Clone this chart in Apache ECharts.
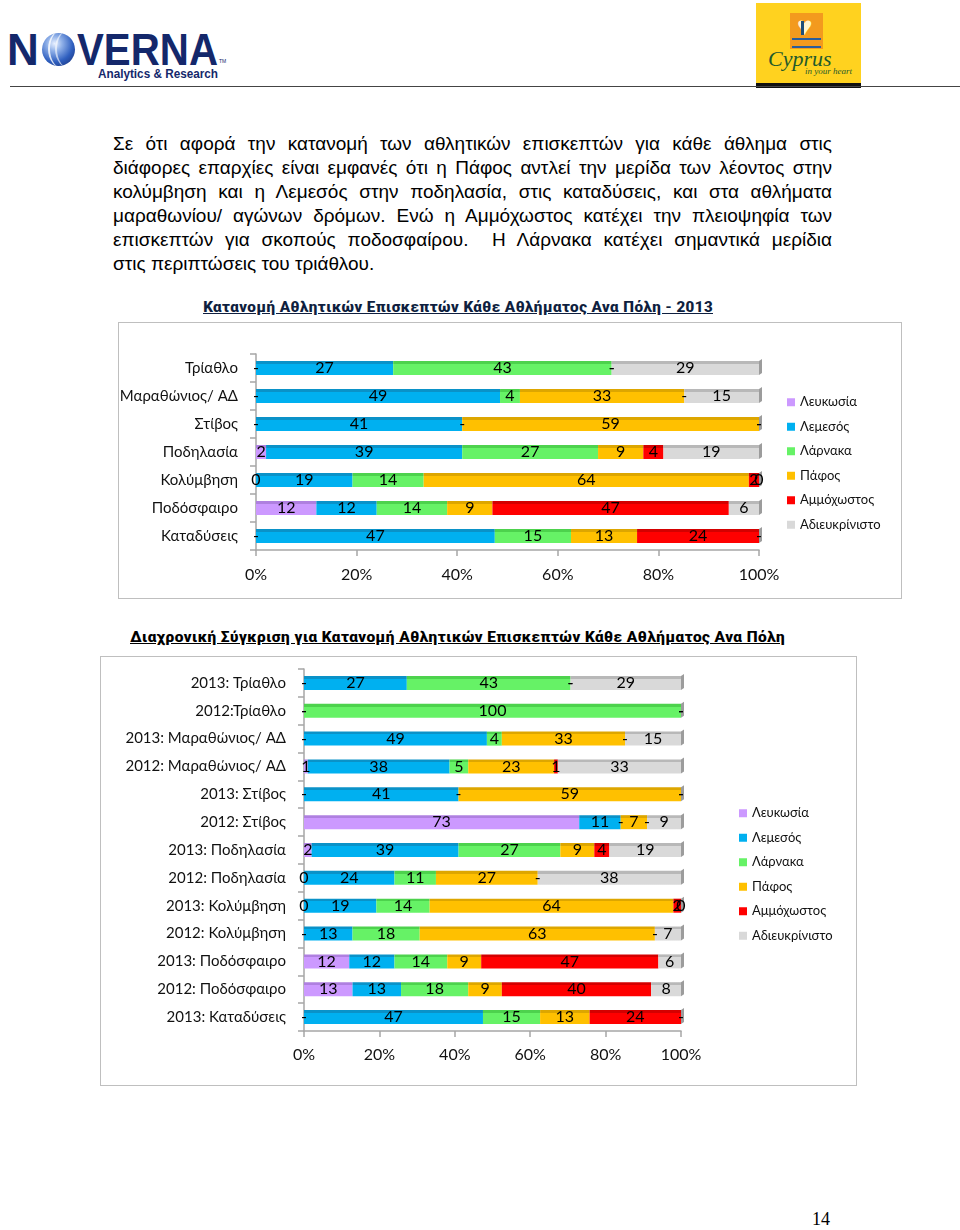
<!DOCTYPE html>
<html><head><meta charset="utf-8">
<script src="https://cdn.jsdelivr.net/npm/echarts@6/dist/echarts.min.js"></script>
<style>
body{margin:0;width:960px;height:1230px;position:relative;background:#fff;overflow:hidden;font-family:'Liberation Sans',Arial,sans-serif;color:#000;}
.abs{position:absolute;}
.fit{white-space:nowrap;display:inline-block;transform-origin:0 50%;}
.para{position:absolute;left:113px;width:719px;top:132px;font-size:19px;line-height:24px;}
.para div{white-space:nowrap;}
.para span{display:inline-block;transform-origin:0 50%;white-space:nowrap;}
.title{position:absolute;font-family:'Liberation Sans Narrow','Roboto Condensed','Liberation Sans',Arial,sans-serif;font-weight:bold;}
.title span{text-decoration:underline;}
</style></head><body>

<!-- header -->
<div class="abs" style="left:7px;top:28px;font-size:44px;line-height:44px;font-weight:bold;color:#14286b;">N</div>
<div class="abs" style="left:42px;top:33px;width:33px;height:33px;border-radius:50%;background:radial-gradient(circle at 38% 32%,#e8f0ff 0%,#8fb0e8 25%,#2f5fbf 60%,#14286b 100%);overflow:hidden;">
  <div class="abs" style="left:6px;top:-4px;width:30px;height:40px;border-left:2px solid rgba(255,255,255,0.8);border-radius:50%;"></div>
  <div class="abs" style="left:13px;top:-4px;width:30px;height:40px;border-left:2px solid rgba(255,255,255,0.6);border-radius:50%;"></div>
</div>
<div class="abs" style="left:77px;top:28px;font-size:44px;line-height:44px;font-weight:bold;color:#14286b;"><span id="verna" class="fit">VERNA</span></div>
<div class="abs" style="left:219px;top:58px;font-size:5px;color:#14286b;">TM</div>
<div class="abs" style="left:98px;top:67px;font-size:12.5px;line-height:14px;font-weight:bold;color:#14286b;"><span id="analytics" class="fit">Analytics &amp; Research</span></div>

<div class="abs" style="left:756px;top:3px;width:105px;height:80px;background:#FFD21F;"></div>
<div class="abs" style="left:790px;top:13px;width:33px;height:36px;background:#F39A1E;"></div>
<div class="abs" style="left:797px;top:11px;font-size:26px;line-height:30px;color:#FFF6D0;">♥</div>
<div class="abs" style="left:801px;top:21px;width:3px;height:14px;background:#1d4f7a;"></div>
<div class="abs" style="left:792px;top:38px;width:29px;height:6px;border-top:2px solid #2a5d9a;border-bottom:2px solid #2a5d9a;"></div>
<div class="abs" style="left:768px;top:47px;font-family:'Liberation Serif',serif;font-style:italic;font-size:22px;line-height:24px;color:#1f5a2c;">Cyprus</div>
<div class="abs" style="left:805px;top:66px;font-family:'Liberation Serif',serif;font-style:italic;font-size:9px;line-height:10px;color:#1f5a2c;">in your heart</div>
<div class="abs" style="left:756px;top:83px;width:105px;height:5px;background:#111;"></div>
<div class="abs" style="left:10px;top:86px;width:950px;height:0;border-top:1.5px solid #444;"></div>

<!-- paragraph -->
<div class="para" id="para">
<div><span>Σε ότι αφορά την κατανομή των αθλητικών επισκεπτών για κάθε άθλημα στις</span></div>
<div><span>διάφορες επαρχίες είναι εμφανές ότι η Πάφος αντλεί την μερίδα των λέοντος στην</span></div>
<div><span>κολύμβηση και η Λεμεσός στην ποδηλασία, στις καταδύσεις, και στα αθλήματα</span></div>
<div><span>μαραθωνίου/ αγώνων δρόμων. Ενώ η Αμμόχωστος κατέχει την πλειοψηφία των</span></div>
<div><span>επισκεπτών για σκοπούς ποδοσφαίρου.&nbsp; Η Λάρνακα κατέχει σημαντικά μερίδια</span></div>
<div class="last"><span>στις περιπτώσεις του τριάθλου.</span></div>
</div>

<!-- chart 1 -->
<div class="title" style="left:203px;top:298px;font-size:14px;line-height:18px;color:#0f1f3f;"><span id="t1" class="fit">Κατανομή Αθλητικών Επισκεπτών Κάθε Αθλήματος Ανα Πόλη - 2013</span></div>
<div class="abs" style="left:118px;top:322px;width:784px;height:277px;border:1px solid #BFBFBF;box-sizing:border-box;"></div>
<div id="c1" class="abs" style="left:0;top:320px;width:960px;height:285px;"></div>

<!-- chart 2 -->
<div class="title" style="left:130px;top:628px;font-size:15px;line-height:19px;color:#000;"><span id="t2" class="fit">Διαχρονική Σύγκριση για Κατανομή Αθλητικών Επισκεπτών Κάθε Αθλήματος Ανα Πόλη</span></div>
<div class="abs" style="left:100px;top:656px;width:757px;height:430px;border:1px solid #BFBFBF;box-sizing:border-box;"></div>
<div id="c2" class="abs" style="left:0;top:650px;width:960px;height:430px;"></div>

<div class="abs" style="left:812px;top:1209px;font-family:'Liberation Serif','DejaVu Serif',serif;font-size:18px;line-height:20px;">14</div>

<script>
// ---------- data ----------
const seriesNames = ['Λευκωσία','Λεμεσός','Λάρνακα','Πάφος','Αμμόχωστος','Αδιευκρίνιστο'];

// Chart 1 (2013), null = "-"
const cats1 = ['Τρίαθλο','Μαραθώνιος/ ΑΔ','Στίβος','Ποδηλασία','Κολύμβηση','Ποδόσφαιρο','Καταδύσεις'];
const lefkosia1 = [null, null, null, 2, 0, 12, null];
const lemesos1  = [27, 49, 41, 39, 19, 12, 47];
const larnaka1  = [43, 4, null, 27, 14, 14, 15];
const pafos1    = [null, 33, 59, 9, 64, 9, 13];
const ammoch1   = [null, null, null, 4, 2, 47, 24];
const adieuk1   = [29, 15, null, 19, 0, 6, null];

// Chart 2 (2013 vs 2012)
const cats2 = ['2013: Τρίαθλο','2012:Τρίαθλο','2013: Μαραθώνιος/ ΑΔ','2012: Μαραθώνιος/ ΑΔ','2013: Στίβος','2012: Στίβος','2013: Ποδηλασία','2012: Ποδηλασία','2013: Κολύμβηση','2012: Κολύμβηση','2013: Ποδόσφαιρο','2012: Ποδόσφαιρο','2013: Καταδύσεις'];
const lefkosia2 = [null, null, null, 1, null, 73, 2, 0, 0, null, 12, 13, null];
const lemesos2  = [27, null, 49, 38, 41, 11, 39, 24, 19, 13, 12, 13, 47];
const larnaka2  = [43, 100, 4, 5, null, null, 27, 11, 14, 18, 14, 18, 15];
const pafos2    = [null, null, 33, 23, 59, 7, 9, 27, 64, 63, 9, 9, 13];
const ammoch2   = [null, null, null, 1, null, null, 4, null, 2, null, 47, 40, 24];
const adieuk2   = [29, null, 15, 33, null, 9, 19, 38, 0, 7, 6, 8, null];

const xTicks = [0, 20, 40, 60, 80, 100];

// ---------- style ----------
const colors = ['#CC99FF','#00B0F0','#66F266','#FFC000','#FF0000','#D9D9D9'];
const topColors = ['#AF80E0','#0A92C8','#4DD24D','#DDA600','#D40000','#B8B8B8'];
const FONT = "Lato, 'Open Sans', sans-serif";

function fill(i){
  return new echarts.graphic.LinearGradient(0,0,0,1,[
    {offset:0,color:topColors[i]},{offset:0.2,color:topColors[i]},
    {offset:0.2,color:colors[i]},{offset:1,color:colors[i]}]);
}

function build(cats, arrays, grid, legend, barW){
  const sums = cats.map((c,r)=>arrays.reduce((s,a)=>s+(a[r]||0),0));
  const xMax = xTicks[xTicks.length-1];
  const series = arrays.map((arr,i)=>({
    name: seriesNames[i], type:'bar', stack:'all', barWidth:barW,
    itemStyle:{color:fill(i)},
    label:{show:true, position:'inside', color:'#000', fontFamily:FONT, fontSize:16,
      formatter:p=>p.data.txt},
    emphasis:{disabled:true},
    data: arr.map((v,r)=> v===null ? {value:0, txt:'-'} : {value: v/sums[r]*100, txt:String(v)})
  }));
  // 3D side face at the end of each 100% bar
  series.push({
    type:'custom', silent:true, z:1,
    data: cats.map((c,r)=>[xMax, r]),
    renderItem:(params, api)=>{
      const p = api.coord([api.value(0), api.value(1)]);
      const h = barW/2;
      return {type:'polygon', shape:{points:[[p[0],p[1]-h],[p[0]+3,p[1]-h-2],[p[0]+3,p[1]+h-2],[p[0],p[1]+h]]},
        style:{fill:'#9C9C9C'}};
    }
  });
  return {
    animation:false,
    grid: grid,
    legend: Object.assign({orient:'vertical', icon:'rect', itemWidth:8, itemHeight:8, itemGap:10,
      selectedMode:false, textStyle:{fontFamily:FONT, fontSize:13, lineHeight:14.5, color:'#111'},
      data: seriesNames.map((n,i)=>({name:n, itemStyle:{color:colors[i]}}))}, legend),
    xAxis:{type:'value', min:xTicks[0], max:xMax, interval:xTicks[1]-xTicks[0],
      axisLabel:{formatter:'{value}%', fontFamily:FONT, fontSize:16, color:'#111', margin:grid.xm},
      axisLine:{show:true, lineStyle:{color:'#A6A6A6', width:1.5}},
      axisTick:{show:true, length:6, lineStyle:{color:'#A6A6A6', width:1.5}},
      splitLine:{show:false}},
    yAxis:{type:'category', data:cats, inverse:true,
      axisLabel:{fontFamily:FONT, fontSize:15, color:'#111', margin:18},
      axisLine:{show:true, lineStyle:{color:'#A6A6A6', width:1.5}},
      axisTick:{show:true, length:6, lineStyle:{color:'#A6A6A6', width:1.5}}},
    series: series
  };
}

const c1 = echarts.init(document.getElementById('c1'), null, {renderer:'canvas'});
c1.setOption(build(cats1, [lefkosia1, lemesos1, larnaka1, pafos1, ammoch1, adieuk1],
  {left:256, top:34, width:503, height:196, xm:17}, {left:782, top:70}, 14));

const c2 = echarts.init(document.getElementById('c2'), null, {renderer:'canvas'});
c2.setOption(build(cats2, [lefkosia2, lemesos2, larnaka2, pafos2, ammoch2, adieuk2],
  {left:304, top:19, width:377, height:362, xm:16}, {left:734, top:151}, 14));

function fit(id, w){ const el=document.getElementById(id); const r=el.getBoundingClientRect().width; el.style.transform='scaleX('+(w/r)+')'; }
fit('verna', 141); fit('analytics', 120); fit('t1', 510); fit('t2', 655);

// justify paragraph lines exactly
document.querySelectorAll('#para div').forEach(d=>{
  if (d.classList.contains('last')) return;
  const s = d.querySelector('span');
  const w = s.getBoundingClientRect().width;
  const spaces = (s.textContent.match(/[ \u00a0]/g)||[]).length;
  if (w < 719) s.style.wordSpacing = ((719 - w) / spaces) + 'px';
  else s.style.transform = 'scaleX(' + (719 / w) + ')';
});
</script>
</body></html>
